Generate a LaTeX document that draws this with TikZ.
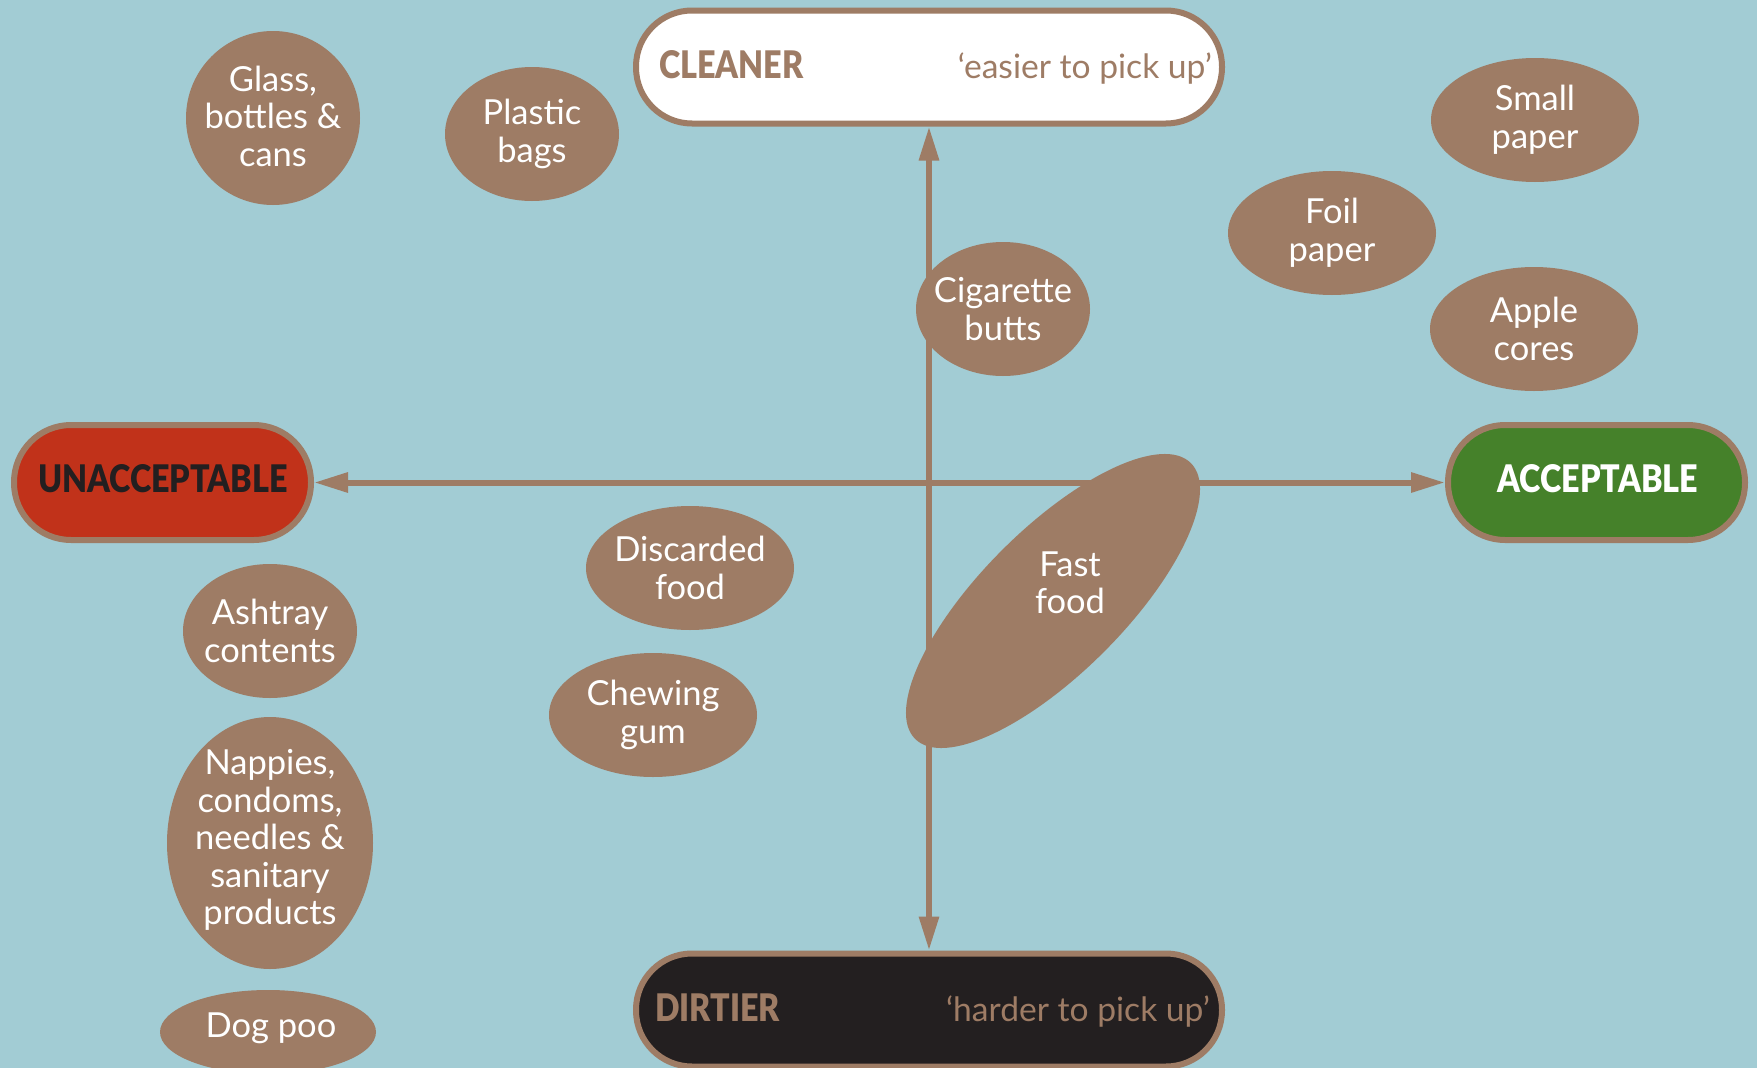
\documentclass[tikz,border=0pt]{standalone}
\usepackage{fontspec}
\setmainfont{Lato}
\newfontfamily\headfont{Lato Black}[FakeStretch=0.85]
\usetikzlibrary{shapes.geometric,arrows.meta}
\definecolor{bgblue}{RGB}{162,204,212}
\definecolor{brownc}{RGB}{158,124,101}
\definecolor{redc}{RGB}{193,50,26}
\definecolor{greenc}{RGB}{69,129,42}
\definecolor{darkc}{RGB}{35,31,32}
\begin{document}
\begin{tikzpicture}[x=1pt,y=-1pt,
  pill/.style={rectangle, rounded corners=56pt, draw=brownc, line width=6pt, inner sep=0pt},
  bigpill/.style={pill, minimum width=586pt, minimum height=113pt},
  sidepill/.style={pill, rounded corners=57pt, minimum width=297pt, minimum height=115pt},
  headtxt/.style={font=\headfont\fontsize{38}{38}\selectfont},
  phrasetxt/.style={text=brownc, font=\fontsize{33.6}{35}\selectfont, inner sep=0pt},
  blob/.style={ellipse, fill=brownc, draw=none, inner sep=0pt},
  blobtxt/.style={text=white, align=center, inner sep=0pt, font=\fontsize{34.5}{37.5}\selectfont},
  axis/.style={draw=brownc, line width=6pt, {Triangle[length=34pt,width=19pt]}-{Triangle[length=34pt,width=19pt]}}
]
\useasboundingbox (0,0) rectangle (1757,1068);
\clip (0,0) rectangle (1757,1068);
\fill[bgblue] (0,0) rectangle (1757,1068);

% boxes
\node[bigpill, fill=white] (clean) at (929,67) {};
\node[bigpill, fill=darkc] (dirty) at (929,1010) {};
\node[sidepill, fill=redc] (unacc) at (162.5,482.5) {};
\node[sidepill, fill=greenc] (acc) at (1596.5,482.5) {};

\node[headtxt, text=brownc, anchor=base west, inner sep=0pt] (cleant) at (659,78) {CLEANER};
\node[phrasetxt, anchor=base east] (cleanp) at (1212,78) {‘easier to pick up’};
\node[headtxt, text=brownc, anchor=base west, inner sep=0pt] (dirtyt) at (655,1021) {DIRTIER};
\node[phrasetxt, anchor=base east] (dirtyp) at (1210,1021) {‘harder to pick up’};
\node[headtxt, text=darkc, inner sep=0pt] (unacct) at (163,479) {UNACCEPTABLE};
\node[headtxt, text=white, inner sep=0pt] (acct) at (1598,479) {ACCEPTABLE};

% axes
\draw[axis] (clean.south) -- (dirty.north);
\draw[axis] (unacc.east) -- (acc.west);

% blobs
\node[blob, minimum width=174pt, minimum height=174pt] (glass) at (273,118) {};
\node[blobtxt] (glasst) at (273,116) {Glass,\\bottles \&\\cans};
\node[blob, minimum width=174pt, minimum height=134pt] (plastic) at (532,134) {};
\node[blobtxt] (plastict) at (plastic) {Plastic\\bags};
\node[blob, minimum width=174pt, minimum height=134pt] (cig) at (1003,309) {};
\node[blobtxt] (cigt) at (cig) {Cigarette\\butts};
\node[blob, minimum width=208pt, minimum height=124pt] (small) at (1535,120) {};
\node[blobtxt] (smallt) at (small) {Small\\paper};
\node[blob, minimum width=208pt, minimum height=124pt] (foil) at (1332,233) {};
\node[blobtxt] (foilt) at (foil) {Foil\\paper};
\node[blob, minimum width=208pt, minimum height=124pt] (apple) at (1534,329) {};
\node[blobtxt] (applet) at (apple) {Apple\\cores};
\node[blob, minimum width=208pt, minimum height=124pt] (disc) at (690,568) {};
\node[blobtxt] (disct) at (disc) {Discarded\\food};
\node[blob, minimum width=208pt, minimum height=124pt] (gum) at (653,715) {};
\node[blobtxt] (gumt) at (gum) {Chewing\\gum};
\node[blob, minimum width=174pt, minimum height=134pt] (ash) at (270,631) {};
\node[blobtxt] (asht) at (ash) {Ashtray\\contents};
\node[blob, minimum width=206pt, minimum height=252pt] (nap) at (270,843) {};
\node[blobtxt] (napt) at (270,840) {Nappies,\\condoms,\\needles \&\\sanitary\\products};
\node[blob, minimum width=216pt, minimum height=84pt] (dog) at (268,1032) {};
\node[blobtxt] (dogt) at (271,1028) {Dog poo};
\node[blob, rotate=45, minimum width=390pt, minimum height=144pt] (fast) at (1053,601) {};
\node[blobtxt] (fastt) at (1070,583) {Fast\\food};
\end{tikzpicture}
\end{document}
